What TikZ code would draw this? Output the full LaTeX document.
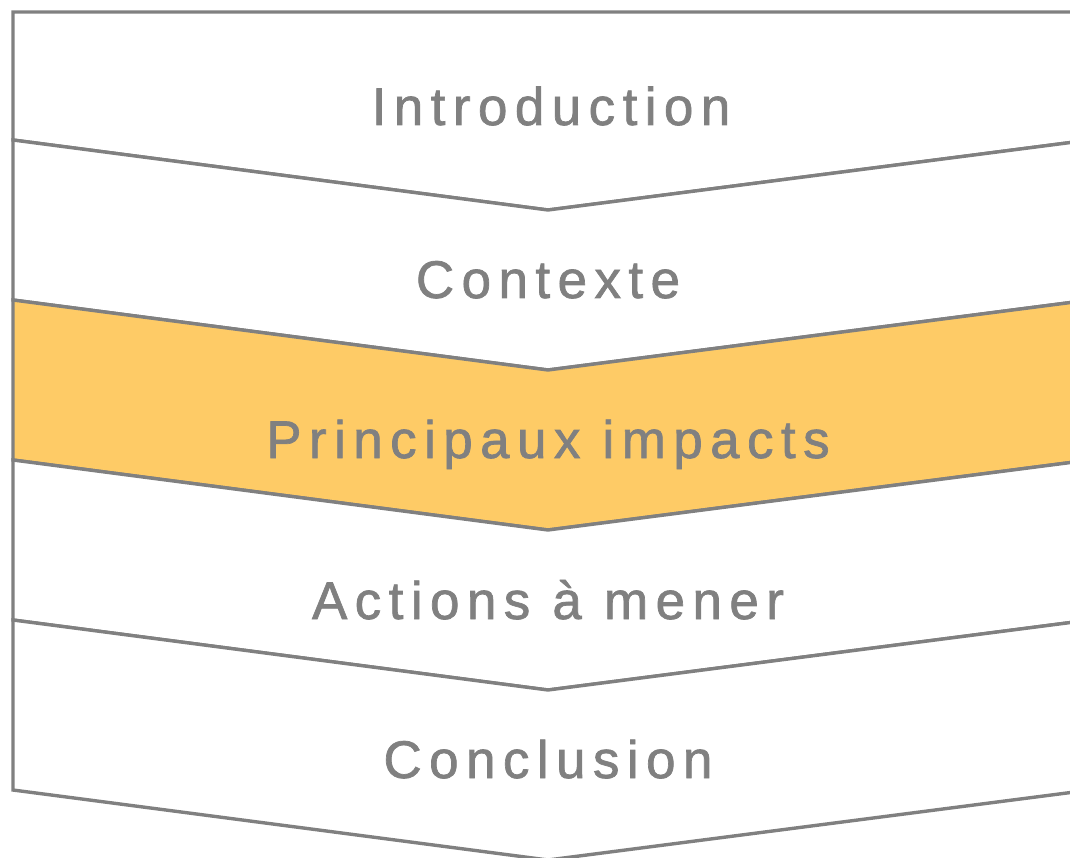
\documentclass[tikz,border=0pt]{standalone}
\usepackage{fontspec}
\setmainfont{Liberation Sans}[LetterSpace=14, FakeBold=1.3]
\definecolor{edgegray}{HTML}{808080}
\definecolor{hilite}{HTML}{FECB66}
\tikzset{
  chev/.style={draw=edgegray, line width=3.4pt, line join=miter, fill=white},
  chevhi/.style={chev, fill=hilite},
  lbl/.style={text=edgegray, font=\fontsize{53}{60}\selectfont, anchor=base, inner sep=0pt}
}
\begin{document}
\begin{tikzpicture}[x=1pt,y=-1pt]
\useasboundingbox (0,0) rectangle (1070,858);
\clip (0,0) rectangle (1070,858);
% shapes
\path[chev] (13,12) -- (1090,12) -- (1090,140) -- (548,210) -- (13,140) -- cycle;
\path[chev] (13,140) -- (548,210) -- (1090,140) -- (1090,300) -- (548,370) -- (13,300) -- cycle;
\path[chevhi] (13,300) -- (548,370) -- (1090,300) -- (1090,460) -- (548,530) -- (13,460) -- cycle;
\path[chev] (13,460) -- (548,530) -- (1090,460) -- (1090,620) -- (548,690) -- (13,620) -- cycle;
\path[chev] (13,620) -- (548,690) -- (1090,620) -- (1090,790) -- (548,860) -- (13,790) -- cycle;
% labels
\node[lbl] (t1) at (551,125) {Introduction};
\node[lbl] (t2) at (548,298) {Contexte};
\node[lbl] (t3) at (548,458) {Principaux impacts};
\node[lbl] (t4) at (548,619) {Actions à mener};
\node[lbl] (t5) at (548,778) {Conclusion};
\end{tikzpicture}
\end{document}
